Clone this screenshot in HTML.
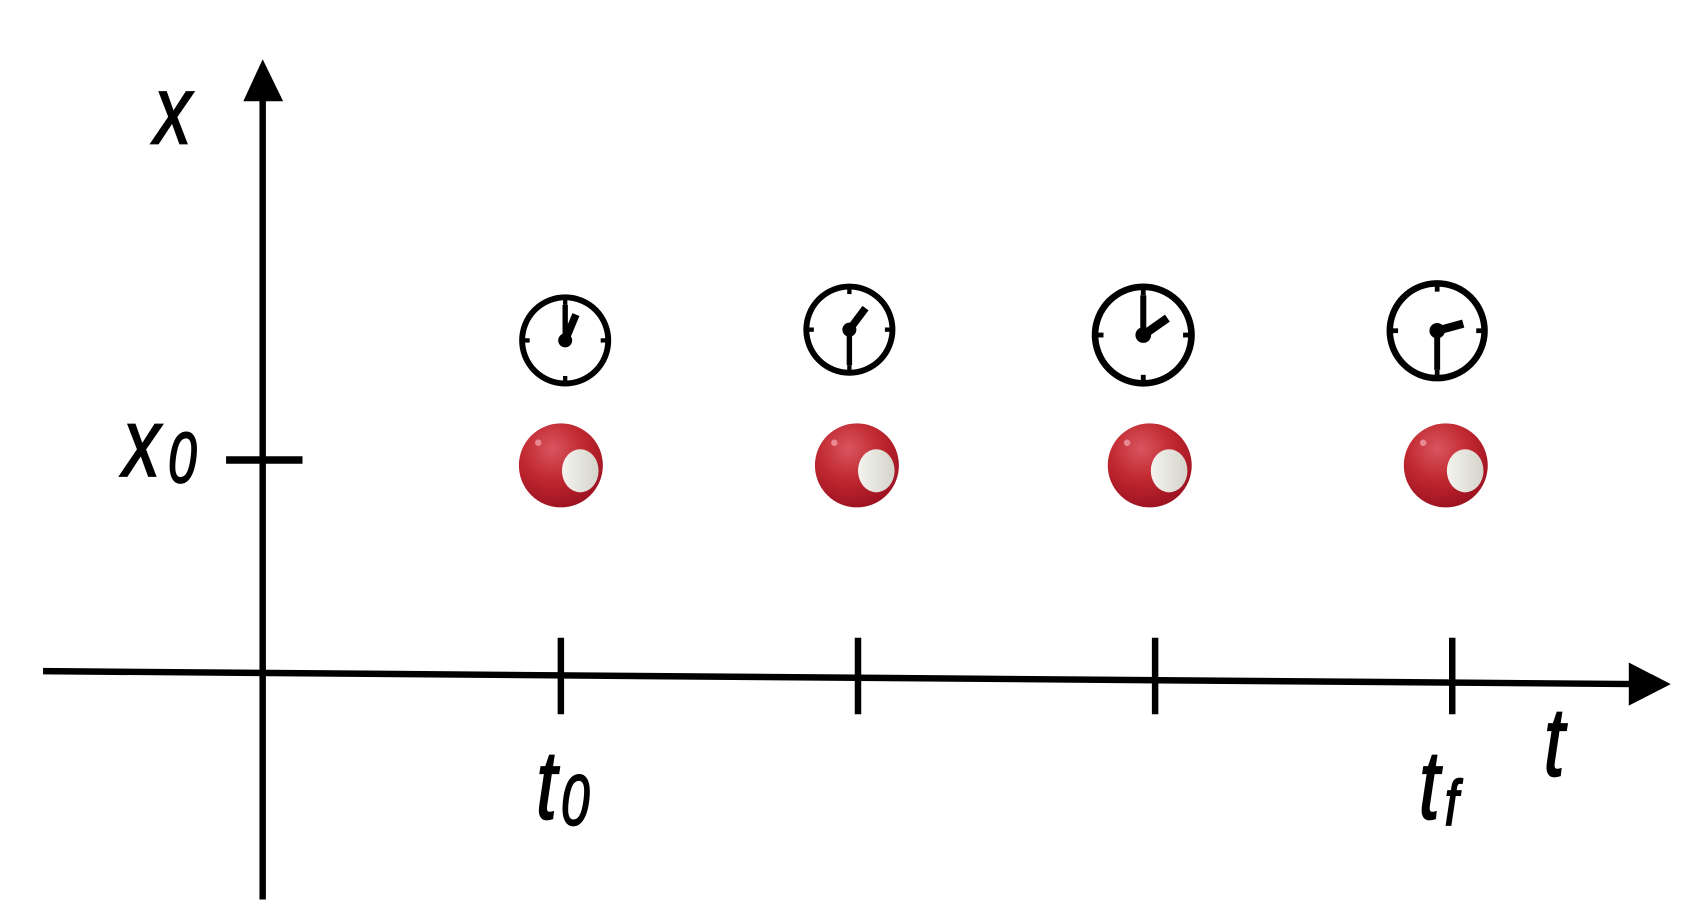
<!DOCTYPE html>
<html><head><meta charset="utf-8"><style>
html,body{margin:0;padding:0;background:#fff;}
svg{display:block}
text{font-family:"Liberation Sans",sans-serif;font-style:italic;fill:#000;stroke:#000;stroke-width:1.5}
</style></head><body>
<svg width="1688" height="920" viewBox="0 0 1568 854" preserveAspectRatio="none" xmlns="http://www.w3.org/2000/svg">
<defs>
<radialGradient id="rb" cx="0.4" cy="0.3" r="0.75">
<stop offset="0" stop-color="#d9555f"/>
<stop offset="0.5" stop-color="#c0282f"/>
<stop offset="1" stop-color="#9a1020"/>
</radialGradient>
<linearGradient id="wh" x1="0" x2="1" y1="0" y2="0">
<stop offset="0" stop-color="#f4f3ee"/><stop offset="1" stop-color="#d4d4cc"/>
</linearGradient>
<g id="ball">
<circle r="39" fill="url(#rb)"/>
<ellipse cx="18" cy="5" rx="17" ry="20" fill="url(#wh)"/>
<circle cx="-21" cy="-21" r="3" fill="#e98a92"/>
</g>
<g id="face">
<circle r="40" fill="none" stroke="#000" stroke-width="5.5"/>
<line x1="0" y1="-42" x2="0" y2="-33" stroke="#000" stroke-width="4"/>
<line x1="0" y1="42" x2="0" y2="33" stroke="#000" stroke-width="4"/>
<line x1="-42" y1="0" x2="-33" y2="0" stroke="#000" stroke-width="4"/>
<line x1="42" y1="0" x2="33" y2="0" stroke="#000" stroke-width="4"/>
<circle r="6.5" fill="#000"/>
</g>
</defs>
<line x1="244" y1="90" x2="244" y2="835" stroke="#000" stroke-width="6"/>
<polygon points="244,55 226,94 263,94" fill="#000"/>
<line x1="40" y1="623" x2="1518" y2="635" stroke="#000" stroke-width="6"/>
<polygon points="1552,635 1513,615 1513,655" fill="#000"/>
<line x1="210" y1="427" x2="281" y2="427" stroke="#000" stroke-width="7"/>
<g stroke="#000" stroke-width="6">
<line x1="521" y1="592" x2="521" y2="663"/>
<line x1="797" y1="592" x2="797" y2="663"/>
<line x1="1073" y1="592" x2="1073" y2="663"/>
<line x1="1349" y1="592" x2="1349" y2="663"/>
</g>
<g transform="translate(143,133) scale(0.85,1.1)"><text font-size="82">x</text></g>
<g transform="translate(114,442) scale(0.85,1.1)"><text font-size="82">x</text></g>
<g transform="translate(156,448) scale(0.8,1.1)"><text font-size="60">0</text></g>
<g transform="translate(498,760) scale(0.85,1.1)"><text font-size="82">t</text></g>
<g transform="translate(521,766) scale(0.8,1.1)"><text font-size="60">0</text></g>
<g transform="translate(1318,760) scale(0.85,1.1)"><text font-size="82">t</text></g>
<g transform="translate(1342,766) scale(0.85,1.1)"><text font-size="54">f</text></g>
<g transform="translate(1434,720) scale(0.85,1.1)"><text font-size="82">t</text></g>
<g transform="translate(525,316)"><use href="#face"/>
<line x1="0" y1="0" x2="0" y2="-33" stroke="#000" stroke-width="5"/>
<line x1="0" y1="0" x2="10" y2="-24" stroke="#000" stroke-width="7"/></g>
<g transform="translate(789,306)"><use href="#face"/>
<line x1="0" y1="0" x2="0" y2="33" stroke="#000" stroke-width="5"/>
<line x1="0" y1="0" x2="15" y2="-20" stroke="#000" stroke-width="7"/></g>
<g transform="translate(1062,311) scale(1.12)"><use href="#face"/>
<line x1="0" y1="0" x2="0" y2="-33" stroke="#000" stroke-width="5"/>
<line x1="0" y1="0" x2="20" y2="-14" stroke="#000" stroke-width="7"/></g>
<g transform="translate(1335,307) scale(1.1)"><use href="#face"/>
<line x1="0" y1="0" x2="0" y2="33" stroke="#000" stroke-width="5"/>
<line x1="0" y1="0" x2="22" y2="-6" stroke="#000" stroke-width="7"/></g>
<use href="#ball" transform="translate(521,432)"/>
<use href="#ball" transform="translate(796,432)"/>
<use href="#ball" transform="translate(1068,432)"/>
<use href="#ball" transform="translate(1343,432)"/>
</svg>
</body></html>
